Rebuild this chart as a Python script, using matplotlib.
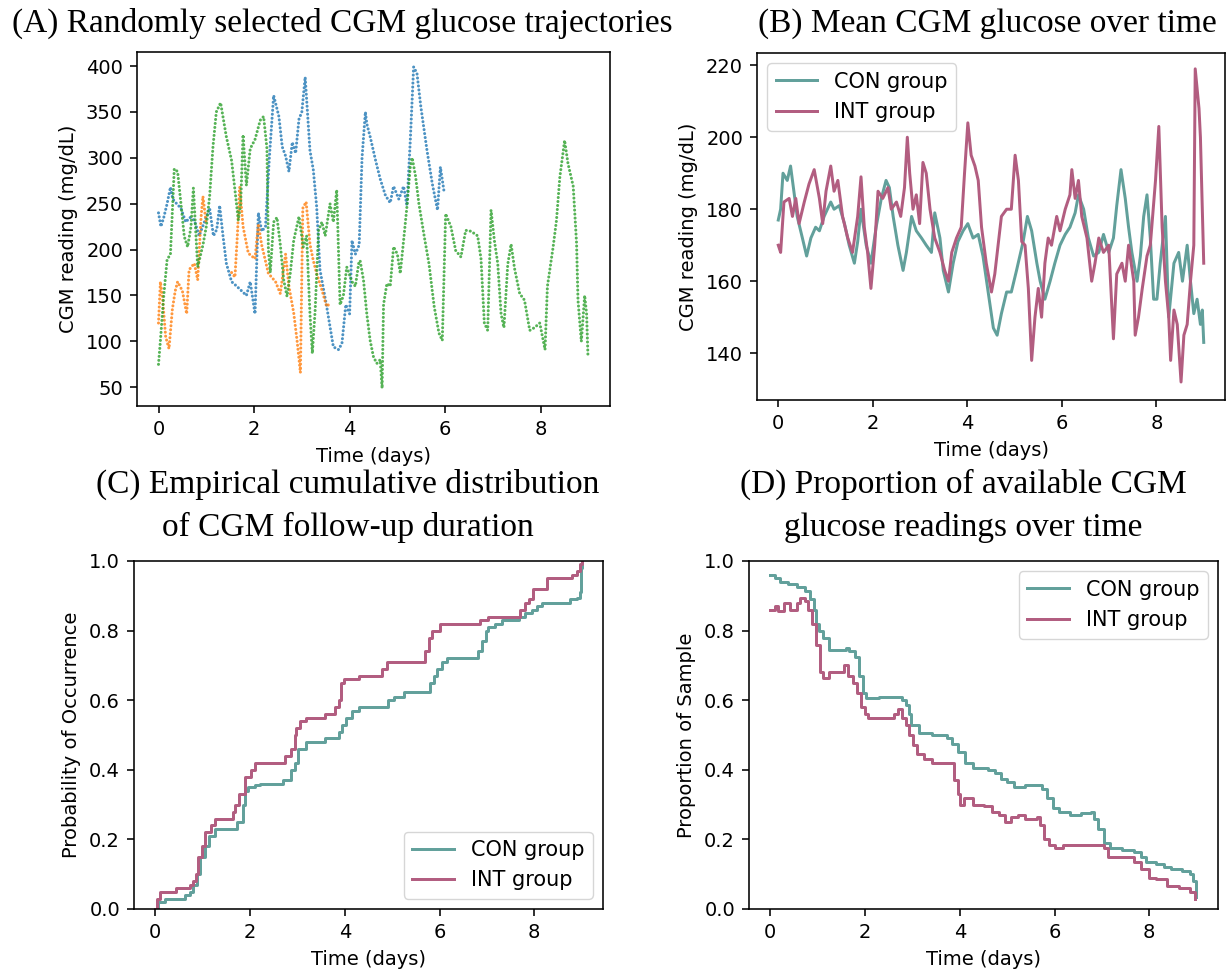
import matplotlib
matplotlib.use("Agg")
import matplotlib.pyplot as plt
import numpy as np

# ---- (A) three randomly selected CGM trajectories (days, mg/dL) ----
blue_t = [0.0, 0.05, 0.11, 0.18, 0.25, 0.3, 0.38, 0.47, 0.57, 0.66,
          0.75, 0.85, 0.96, 1.07, 1.15, 1.22, 1.28, 1.35, 1.42, 1.53,
          1.64, 1.74, 1.84, 1.92, 2.02, 2.09, 2.16, 2.24, 2.32, 2.41,
          2.52, 2.59, 2.66, 2.73, 2.8, 2.87, 2.94, 3.0, 3.07, 3.17,
          3.24, 3.31, 3.38, 3.45, 3.52, 3.59, 3.66, 3.77, 3.84, 3.92,
          4.0, 4.05, 4.12, 4.2, 4.26, 4.33, 4.36, 4.43, 4.54, 4.64,
          4.75, 4.85, 4.92, 5.03, 5.13, 5.2, 5.27, 5.34, 5.41, 5.49,
          5.62, 5.73, 5.84, 5.9, 5.98]
blue_v = [240, 225, 235, 250, 268, 255, 250, 245, 230, 235,
          232, 215, 230, 245, 215, 222, 248, 215, 185, 165,
          160, 155, 150, 165, 130, 240, 220, 225, 300, 368,
          345, 312, 302, 285, 317, 305, 342, 350, 388, 308,
          287, 247, 178, 158, 138, 116, 94, 91, 98, 140,
          130, 210, 195, 205, 300, 350, 337, 323, 298, 277,
          259, 251, 269, 255, 269, 248, 319, 399, 392, 356,
          308, 272, 243, 290, 262]

orange_t = [0.0, 0.04, 0.08, 0.15, 0.22, 0.29, 0.35, 0.4, 0.5, 0.59,
            0.64, 0.75, 0.82, 0.89, 0.93, 1.0, np.nan, 1.53, 1.6, 1.65,
            1.7, 1.77, 1.88, 2.02, 2.09, 2.16, 2.3, 2.45, 2.55, 2.66,
            2.73, 2.83, 2.9, 2.97, 3.02, 3.09, 3.17, 3.24, 3.31, 3.42,
            3.52, 3.58]
orange_v = [120, 165, 150, 105, 92, 135, 155, 165, 155, 130,
            178, 185, 167, 235, 258, 228, np.nan, 175, 170, 215,
            268, 225, 196, 190, 228, 205, 174, 165, 152, 195,
            160, 131, 101, 66, 245, 252, 206, 188, 174, 156,
            138, 141]

green_t = [0.0, 0.04, 0.11, 0.18, 0.25, 0.33, 0.4, 0.47, 0.54, 0.61,
           0.68, 0.73, 0.82, 0.93, 1.0, 1.07, 1.14, 1.21, 1.3, 1.42,
           1.53, 1.6, 1.67, 1.72, 1.77, 1.84, 1.92, 2.02, 2.13, 2.2,
           2.27, 2.3, 2.34, 2.41, 2.48, 2.55, 2.62, 2.69, 2.76, 2.83,
           2.94, 3.03, 3.1, 3.17, 3.22, 3.28, 3.35, 3.42, 3.49, 3.59,
           3.66, 3.73, 3.8, 3.87, 3.94, 4.05, 4.12, 4.19, 4.22, 4.29,
           4.36, 4.43, 4.5, 4.57, 4.64, 4.68, 4.71, 4.78, 4.85, 4.92,
           5.0, 5.06, 5.13, 5.2, 5.27, 5.31, 5.38, 5.45, 5.56, 5.66,
           5.77, 5.87, 5.94, 6.01, 6.12, 6.22, 6.33, 6.43, 6.54, 6.68,
           6.75, 6.82, 6.89, 6.96, 7.03, 7.1, 7.17, 7.23, 7.31, 7.38,
           7.45, 7.56, 7.66, 7.77, 7.87, 7.98, 8.09, 8.14, 8.26, 8.33,
           8.4, 8.5, 8.57, 8.68, 8.75, 8.78, 8.85, 8.92, 8.96, 8.99]
green_v = [75, 101, 150, 189, 195, 288, 285, 250, 214, 203,
           225, 267, 181, 205, 225, 258, 312, 350, 360, 323,
           297, 265, 232, 250, 325, 270, 310, 320, 341, 345,
           310, 200, 175, 230, 235, 205, 167, 149, 175, 210,
           236, 203, 215, 130, 87, 135, 221, 230, 215, 250,
           230, 265, 140, 150, 181, 165, 160, 185, 188, 167,
           130, 101, 83, 76, 80, 49, 140, 163, 160, 203,
           195, 174, 210, 247, 290, 300, 280, 250, 215, 185,
           138, 109, 101, 239, 225, 199, 192, 221, 220, 215,
           190, 120, 112, 243, 210, 185, 130, 115, 184, 206,
           180, 152, 145, 112, 115, 120, 91, 160, 203, 232,
           279, 319, 294, 269, 207, 145, 100, 150, 130, 82]

# ---- (B) mean CGM glucose by group ----
con_t = [0.0, 0.05, 0.1, 0.19, 0.26, 0.33, 0.4, 0.51, 0.6, 0.69,
         0.79, 0.87, 0.97, 1.04, 1.11, 1.18, 1.29, 1.4, 1.5, 1.61,
         1.68, 1.75, 1.86, 1.96, 2.07, 2.18, 2.28, 2.35, 2.43, 2.53,
         2.64, 2.71, 2.82, 2.92, 3.03, 3.13, 3.24, 3.31, 3.42, 3.49,
         3.6, 3.7, 3.8, 3.91, 4.01, 4.12, 4.23, 4.33, 4.44, 4.55,
         4.63, 4.72, 4.83, 4.93, 5.04, 5.18, 5.27, 5.36, 5.47, 5.54,
         5.64, 5.75, 5.85, 5.96, 6.07, 6.17, 6.28, 6.35, 6.46, 6.56,
         6.67, 6.78, 6.88, 6.99, 7.09, 7.16, 7.25, 7.34, 7.41, 7.48,
         7.59, 7.66, 7.73, 7.8, 7.87, 7.94, 8.01, 8.08, 8.19, 8.26,
         8.37, 8.47, 8.55, 8.65, 8.72, 8.79, 8.86, 8.93, 8.97, 9.0]
con_v = [177, 180, 190, 188, 192, 185, 178, 172, 167, 172,
         175, 174, 178, 180, 182, 180, 181, 176, 170, 165,
         171, 180, 170, 165, 175, 183, 188, 186, 178, 170,
         163, 168, 178, 174, 172, 170, 168, 179, 172, 163,
         157, 165, 171, 174, 176, 172, 173, 167, 157, 147,
         145, 151, 157, 157, 163, 171, 178, 174, 165, 160,
         155, 160, 165, 170, 173, 175, 179, 184, 180, 172,
         167, 168, 173, 168, 172, 181, 191, 183, 175, 168,
         160, 167, 178, 184, 172, 155, 155, 165, 178, 150,
         165, 168, 160, 170, 160, 151, 155, 148, 152, 143]

int_t = [0.0, 0.05, 0.12, 0.23, 0.3, 0.37, 0.44, 0.55, 0.65, 0.76,
         0.87, 0.94, 1.01, 1.11, 1.18, 1.26, 1.36, 1.47, 1.57, 1.68,
         1.75, 1.82, 1.89, 1.96, 2.04, 2.11, 2.21, 2.32, 2.39, 2.5,
         2.59, 2.67, 2.73, 2.78, 2.85, 2.92, 2.99, 3.06, 3.13, 3.21,
         3.31, 3.42, 3.52, 3.6, 3.67, 3.77, 3.87, 3.94, 4.01, 4.08,
         4.16, 4.23, 4.3, 4.4, 4.51, 4.58, 4.65, 4.72, 4.83, 4.93,
         5.01, 5.08, 5.15, 5.22, 5.29, 5.36, 5.43, 5.5, 5.57, 5.64,
         5.71, 5.78, 5.89, 5.96, 6.07, 6.17, 6.21, 6.28, 6.35, 6.42,
         6.53, 6.63, 6.7, 6.78, 6.88, 6.99, 7.09, 7.16, 7.27, 7.34,
         7.41, 7.52, 7.55, 7.62, 7.7, 7.8, 7.87, 7.98, 8.05, 8.12,
         8.19, 8.26, 8.3, 8.37, 8.44, 8.52, 8.58, 8.65, 8.72, 8.79,
         8.82, 8.9, 8.93, 8.97, 9.0]
int_v = [170, 168, 182, 183, 178, 183, 176, 182, 187, 191,
         183, 176, 185, 192, 185, 188, 178, 172, 168, 178,
         189, 175, 168, 158, 170, 185, 183, 186, 180, 182,
         178, 186, 200, 190, 180, 184, 176, 193, 190, 180,
         172, 168, 163, 160, 168, 172, 175, 190, 204, 195,
         192, 188, 175, 165, 157, 162, 170, 178, 180, 180,
         195, 188, 171, 170, 158, 138, 150, 158, 150, 165,
         172, 170, 178, 174, 180, 184, 191, 183, 188, 178,
         172, 160, 165, 172, 168, 170, 144, 162, 165, 160,
         170, 160, 145, 150, 158, 167, 170, 188, 203, 175,
         160, 150, 138, 152, 148, 132, 145, 148, 160, 170,
         219, 208, 200, 180, 165]

# ---- (C) ECDF of follow-up duration (step positions) ----
ecdf_con_t = [0.0, 0.05, 0.2, 0.62, 0.73, 0.8, 0.89, 0.94, 1.05, 1.13,
              1.25, 1.73, 1.85, 1.89, 1.96, 2.1, 2.22, 2.7, 2.86, 2.94,
              3.02, 3.18, 3.59, 3.87, 3.95, 4.03, 4.15, 4.31, 4.92, 5.03,
              5.24, 5.8, 5.88, 5.94, 6.05, 6.15, 6.82, 6.9, 6.99, 7.03,
              7.18, 7.32, 7.67, 7.81, 7.95, 8.06, 8.16, 8.76, 8.9, 8.96,
              8.99, 9.0]
ecdf_con_p = [0.0, 0.02, 0.03, 0.04, 0.05, 0.07, 0.1, 0.15, 0.18, 0.21,
              0.23, 0.25, 0.30, 0.34, 0.35, 0.355, 0.36, 0.37, 0.40, 0.42,
              0.46, 0.48, 0.49, 0.51, 0.53, 0.55, 0.57, 0.58, 0.60, 0.61,
              0.625, 0.65, 0.67, 0.69, 0.71, 0.72, 0.74, 0.77, 0.80, 0.81,
              0.82, 0.83, 0.84, 0.85, 0.86, 0.87, 0.88, 0.89, 0.895, 0.91,
              0.98, 1.0]
ecdf_int_t = [0.0, 0.04, 0.1, 0.44, 0.73, 0.8, 0.86, 0.91, 0.99, 1.05,
              1.17, 1.25, 1.65, 1.69, 1.77, 1.89, 2.01, 2.1, 2.74, 2.86,
              2.94, 2.98, 3.06, 3.18, 3.59, 3.79, 3.87, 3.93, 3.99, 4.31,
              4.79, 4.89, 5.7, 5.77, 5.84, 6.01, 6.86, 7.03, 7.7, 7.81,
              7.88, 7.97, 8.27, 8.8, 8.9, 8.97, 9.0]
ecdf_int_p = [0.0, 0.03, 0.05, 0.06, 0.07, 0.08, 0.1, 0.15, 0.18, 0.22,
              0.24, 0.26, 0.28, 0.30, 0.33, 0.38, 0.40, 0.42, 0.44, 0.46,
              0.50, 0.52, 0.54, 0.55, 0.56, 0.58, 0.60, 0.65, 0.66, 0.67,
              0.69, 0.71, 0.74, 0.78, 0.80, 0.82, 0.83, 0.84, 0.86, 0.88,
              0.89, 0.92, 0.95, 0.96, 0.97, 0.99, 1.0]

# ---- (D) proportion of available readings ----
avail_con_t = [0.0, 0.09, 0.21, 0.37, 0.57, 0.73, 0.84, 0.92, 0.96, 1.03,
               1.12, 1.24, 1.44, 1.59, 1.67, 1.79, 1.87, 1.95, 2.03, 2.3,
               2.62, 2.78, 2.87, 2.92, 2.97, 3.13, 3.41, 3.72, 3.84, 3.96,
               4.12, 4.28, 4.59, 4.75, 4.87, 4.99, 5.14, 5.38, 5.74, 5.85,
               5.97, 6.09, 6.33, 6.56, 6.76, 6.84, 6.92, 7.04, 7.16, 7.43,
               7.67, 7.83, 7.94, 8.14, 8.3, 8.46, 8.69, 8.85, 8.93, 8.99]
avail_con_p = [0.96, 0.95, 0.94, 0.935, 0.925, 0.915, 0.89, 0.86, 0.82, 0.80,
               0.78, 0.745, 0.745, 0.75, 0.74, 0.725, 0.67, 0.62, 0.605, 0.61,
               0.61, 0.60, 0.585, 0.56, 0.53, 0.505, 0.50, 0.49, 0.475, 0.45,
               0.42, 0.405, 0.40, 0.39, 0.375, 0.365, 0.35, 0.355, 0.345, 0.32,
               0.29, 0.28, 0.27, 0.275, 0.28, 0.26, 0.23, 0.19, 0.175, 0.17,
               0.165, 0.15, 0.135, 0.13, 0.12, 0.115, 0.11, 0.10, 0.08, 0.035]
avail_int_t = [0.0, 0.09, 0.17, 0.29, 0.41, 0.57, 0.63, 0.73, 0.8, 0.88,
               0.96, 1.04, 1.12, 1.24, 1.4, 1.55, 1.63, 1.75, 1.83, 1.91,
               1.99, 2.07, 2.46, 2.62, 2.7, 2.78, 2.86, 2.93, 3.01, 3.09,
               3.25, 3.41, 3.8, 3.88, 3.96, 4.0, 4.08, 4.28, 4.51, 4.67,
               4.83, 4.95, 5.07, 5.22, 5.38, 5.62, 5.7, 5.78, 5.89, 6.01,
               6.17, 6.8, 7.04, 7.12, 7.51, 7.67, 7.83, 7.99, 8.14, 8.3,
               8.38, 8.63, 8.85, 8.97]
avail_int_p = [0.86, 0.87, 0.855, 0.88, 0.86, 0.88, 0.895, 0.885, 0.86, 0.82,
               0.76, 0.68, 0.665, 0.68, 0.68, 0.70, 0.67, 0.65, 0.62, 0.58,
               0.56, 0.55, 0.55, 0.56, 0.575, 0.55, 0.53, 0.50, 0.47, 0.445,
               0.43, 0.42, 0.42, 0.37, 0.33, 0.30, 0.32, 0.30, 0.295, 0.28,
               0.27, 0.25, 0.265, 0.27, 0.26, 0.265, 0.24, 0.20, 0.185, 0.175,
               0.185, 0.185, 0.175, 0.15, 0.15, 0.135, 0.115, 0.09, 0.085, 0.085,
               0.065, 0.06, 0.05, 0.03]

group_labels = ["CON group", "INT group"]
# each panel title as its list of lines
titles = [
    ["(A) Randomly selected CGM glucose trajectories"],
    ["(B) Mean CGM glucose over time"],
    ["(C) Empirical cumulative distribution", "of CGM follow-up duration"],
    ["(D) Proportion of available CGM", "glucose readings over time"],
]

CON_COLOR = "#62a09b"
INT_COLOR = "#b25d80"
W, H = 1226, 977
FS = 14
LEGEND_FS = 15
S = 1.43  # the source panels were drawn ~1.4x larger than matplotlib defaults

plt.rcParams.update({
    "font.family": "DejaVu Sans",
    "font.size": FS,
    "axes.linewidth": 0.8 * S,
    "xtick.major.size": 3.5 * S,
    "ytick.major.size": 3.5 * S,
    "xtick.major.width": 0.8 * S,
    "ytick.major.width": 0.8 * S,
    "xtick.major.pad": 3.5 * S,
    "ytick.major.pad": 3.5 * S,
    "axes.labelpad": 4.0 * S,
})

fig = plt.figure(figsize=(W / 100, H / 100), dpi=100)


def px_axes(left, top, right, bottom):
    return fig.add_axes([left / W, 1 - bottom / H, (right - left) / W, (bottom - top) / H])


ax_a = px_axes(137, 52, 610, 406)
ax_b = px_axes(757, 53, 1225, 400)
ax_c = px_axes(134, 561, 603, 909)
ax_d = px_axes(749, 561, 1218, 909)

# (A) dotted trajectories
for t, v, c in [(blue_t, blue_v, "#1f77b4"), (orange_t, orange_v, "#ff7f0e"),
                (green_t, green_v, "#2ca02c")]:
    ax_a.plot(t, v, color=c, lw=2.2, ls=(0, (0.01, 1.3)), dash_capstyle="round", alpha=0.8)
ax_a.set_ylim(29.6, 415.3)
ax_a.set_yticks([50, 100, 150, 200, 250, 300, 350, 400])
ax_a.set_ylabel("CGM reading (mg/dL)")

# (B) mean glucose
ax_b.plot(con_t, con_v, color=CON_COLOR, lw=1.5 * S, label=group_labels[0])
ax_b.plot(int_t, int_v, color=INT_COLOR, lw=1.5 * S, label=group_labels[1])
ax_b.set_ylim(127, 223.4)
ax_b.set_yticks([140, 160, 180, 200, 220])
ax_b.set_ylabel("CGM reading (mg/dL)")
ax_b.legend(loc="upper left", fontsize=LEGEND_FS)

# (C) ECDF
ax_c.step(ecdf_con_t, ecdf_con_p, where="post", color=CON_COLOR, lw=1.5 * S, label=group_labels[0])
ax_c.step(ecdf_int_t, ecdf_int_p, where="post", color=INT_COLOR, lw=1.5 * S, label=group_labels[1])
ax_c.set_ylim(0, 1)
ax_c.set_ylabel("Probability of Occurrence")
ax_c.legend(loc="lower right", fontsize=LEGEND_FS)

# (D) available readings
ax_d.step(avail_con_t, avail_con_p, where="post", color=CON_COLOR, lw=1.5 * S, label=group_labels[0])
ax_d.step(avail_int_t, avail_int_p, where="post", color=INT_COLOR, lw=1.5 * S, label=group_labels[1])
ax_d.set_ylim(0, 1)
ax_d.set_ylabel("Proportion of Sample")
ax_d.legend(loc="upper right", fontsize=LEGEND_FS)

for ax in (ax_a, ax_b, ax_c, ax_d):
    ax.set_xlim(-0.45, 9.45)
    ax.set_xticks([0, 2, 4, 6, 8])
    ax.set_xlabel("Time (days)")
    ax.tick_params(labelsize=FS)

# title centre x and first-line baseline y, in pixels
title_pos = [(342, 32), (987, 32), (348, 493), (963, 493)]
LINE_STEP = 43
for (x, y), lines in zip(title_pos, titles):
    for i, line in enumerate(lines):
        fig.text(x / W, 1 - (y + i * LINE_STEP) / H, line, ha="center", va="baseline",
                 family="Liberation Serif", fontsize=24)

fig.savefig("out.png", dpi=100)
